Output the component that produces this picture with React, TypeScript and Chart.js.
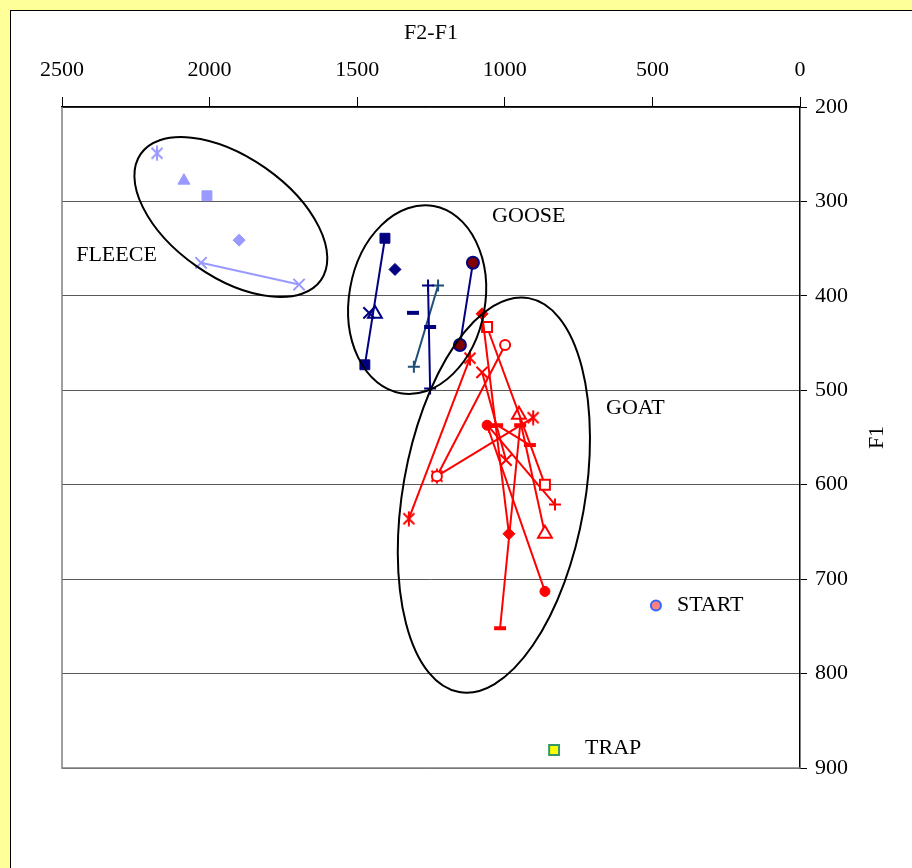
import React, { useEffect, useRef } from 'react';
import { Chart, registerables } from 'chart.js';

Chart.register(...registerables);

const SERIF = '"Liberation Serif", "Times New Roman", serif';

// Axis ticks
const xTicks = [2500, 2000, 1500, 1000, 500, 0];
const yTicks = [200, 300, 400, 500, 600, 700, 800, 900];

type P = { x: number; y: number };

// FLEECE tokens (F2-F1, F1)
const fleeceStar: P[] = [{ x: 2178, y: 249 }];
const fleeceTriangle: P[] = [{ x: 2087, y: 278 }];
const fleeceSquare: P[] = [{ x: 2009, y: 294 }];
const fleeceDiamond: P[] = [{ x: 1900, y: 341 }];
const fleeceCross: P[] = [{ x: 2029, y: 365 }, { x: 1697, y: 388 }];

// GOOSE tokens
const gooseSquare: P[] = [{ x: 1406, y: 339 }, { x: 1474, y: 473 }];
const gooseDiamond: P[] = [{ x: 1372, y: 372 }];
const gooseCross: P[] = [{ x: 1460, y: 418 }];
const gooseTriangle: P[] = [{ x: 1440, y: 419 }];
const gooseDash: P[] = [{ x: 1311, y: 418 }, { x: 1253, y: 433 }];
const goosePlus: P[] = [{ x: 1260, y: 389 }, { x: 1253, y: 498 }];
const goosePlusB: P[] = [{ x: 1226, y: 389 }, { x: 1308, y: 475 }];
const gooseCircle: P[] = [{ x: 1108, y: 365 }, { x: 1152, y: 452 }];

// GOAT tokens
const goatDiamond: P[] = [{ x: 1077, y: 419 }, { x: 986, y: 652 }];
const goatSquare: P[] = [{ x: 1060, y: 433 }, { x: 864, y: 600 }];
const goatCircleOpen: P[] = [{ x: 999, y: 452 }, { x: 1230, y: 591 }];
const goatStarA: P[] = [{ x: 1118, y: 466 }, { x: 1325, y: 636 }];
const goatCross: P[] = [{ x: 1077, y: 481 }, { x: 996, y: 574 }];
const goatCircle: P[] = [{ x: 1060, y: 537 }, { x: 864, y: 713 }];
const goatDashA: P[] = [{ x: 948, y: 537 }, { x: 1016, y: 752 }];
const goatDashB: P[] = [{ x: 1026, y: 537 }, { x: 915, y: 558 }];
const goatStarB: P[] = [{ x: 904, y: 529 }, { x: 1230, y: 591 }];
const goatTriangle: P[] = [{ x: 952, y: 526 }, { x: 864, y: 652 }];
const goatPlus: P[] = [{ x: 1053, y: 539 }, { x: 830, y: 621 }];

// Reference points
const startPoint: P[] = [{ x: 488, y: 728 }];
const trapPoint: P[] = [{ x: 833, y: 881 }];

// Group labels, anchored at data coordinates (left edge, vertical middle)
const groupLabels = [
  { text: 'FLEECE', x: 2452, y: 357 },
  { text: 'GOOSE', x: 1043, y: 316 },
  { text: 'GOAT', x: 657, y: 519 },
  { text: 'START', x: 417, y: 728 },
  { text: 'TRAP', x: 728, y: 879 },
];

// Group outlines: centre in data units, radii in pixels, rotation in degrees
const groupOutlines = [
  { x: 1928, y: 316.5, rx: 110, ry: 60, rot: 35 },
  { x: 1297, y: 404, rx: 95, ry: 68, rot: -80 },
  { x: 1037, y: 611, rx: 200, ry: 91, rot: -80 },
];

const FLEECE = '#9999FF';
const NAVY = '#000080';
const SLATE = '#1F4E79';
const RED = '#FF0000';

// Six-armed asterisk marker (an X with a vertical stroke)
function asterisk(color: string): HTMLCanvasElement {
  const size = 16;
  const c = document.createElement('canvas');
  c.width = size;
  c.height = size;
  const g = c.getContext('2d') as CanvasRenderingContext2D;
  const m = size / 2;
  const d = 5.5;
  g.strokeStyle = color;
  g.lineWidth = 2;
  g.beginPath();
  g.moveTo(m - d, m - d);
  g.lineTo(m + d, m + d);
  g.moveTo(m + d, m - d);
  g.lineTo(m - d, m + d);
  g.moveTo(m, m - 7.5);
  g.lineTo(m, m + 7.5);
  g.stroke();
  return c;
}

type Opts = { fill?: string; border?: string; pbw?: number; line?: boolean; lw?: number };

function series(label: string, data: P[], color: string, style: any, radius: number, o: Opts = {}) {
  return {
    label,
    data,
    showLine: data.length > 1 && o.line !== false,
    borderColor: color,
    borderWidth: o.lw ?? 2,
    backgroundColor: o.fill ?? color,
    pointStyle: style,
    pointRadius: radius,
    pointHoverRadius: radius,
    pointBorderColor: o.border ?? color,
    pointBackgroundColor: o.fill ?? color,
    pointBorderWidth: o.pbw ?? 2,
  };
}

function buildDatasets() {
  const fleeceAst = asterisk(FLEECE);
  const redAst = asterisk(RED);
  return [
    series('fleece star', fleeceStar, FLEECE, fleeceAst, 7),
    series('fleece triangle', fleeceTriangle, FLEECE, 'triangle', 7, { pbw: 1 }),
    series('fleece square', fleeceSquare, FLEECE, 'rect', 7, { pbw: 1 }),
    series('fleece diamond', fleeceDiamond, FLEECE, 'rectRot', 6, { pbw: 1 }),
    series('fleece cross', fleeceCross, FLEECE, 'crossRot', 8),

    series('goose square', gooseSquare, NAVY, 'rect', 7, { pbw: 1 }),
    series('goose diamond', gooseDiamond, NAVY, 'rectRot', 6, { pbw: 1 }),
    series('goose cross', gooseCross, NAVY, 'crossRot', 8),
    series('goose triangle', gooseTriangle, NAVY, 'triangle', 8, { fill: '#ffffff' }),
    series('goose dash', gooseDash, NAVY, 'line', 6, { pbw: 4, line: false }),
    series('goose plus', goosePlus, NAVY, 'cross', 6),
    series('goose plus b', goosePlusB, SLATE, 'cross', 6),
    series('goose circle', gooseCircle, NAVY, 'circle', 6, { fill: '#800000', border: NAVY }),

    series('goat diamond', goatDiamond, RED, 'rectRot', 6, { pbw: 1 }),
    series('goat square', goatSquare, RED, 'rect', 7, { fill: '#ffffff' }),
    series('goat circle open', goatCircleOpen, RED, 'circle', 5, { fill: '#ffffff' }),
    series('goat star a', goatStarA, RED, redAst, 7),
    series('goat cross', goatCross, RED, 'crossRot', 8),
    series('goat circle', goatCircle, RED, 'circle', 5, { pbw: 1 }),
    series('goat dash a', goatDashA, RED, 'line', 6, { pbw: 4 }),
    series('goat dash b', goatDashB, RED, 'line', 6, { pbw: 4 }),
    series('goat star b', goatStarB, RED, redAst, 7),
    series('goat triangle', goatTriangle, RED, 'triangle', 8, { fill: '#ffffff' }),
    series('goat plus', goatPlus, RED, 'cross', 6),

    series('START', startPoint, '#3366FF', 'circle', 5, { fill: '#FF8080', border: '#3366FF' }),
    series('TRAP', trapPoint, '#339966', 'rect', 7, { fill: '#FFFF00', border: '#339966' }),
  ];
}

// Draws the plot-area frame, group outlines, annotations and the F1 title
const decorations = {
  id: 'decorations',
  beforeDatasetsDraw(chart: any) {
    const { ctx, chartArea: a } = chart;
    ctx.save();
    ctx.strokeStyle = '#808080';
    ctx.lineWidth = 1.5;
    ctx.beginPath();
    ctx.moveTo(a.left, a.top);
    ctx.lineTo(a.left, a.bottom);
    ctx.lineTo(a.right, a.bottom);
    ctx.stroke();
    ctx.restore();
  },
  afterDatasetsDraw(chart: any) {
    const { ctx, scales } = chart;
    const xs = scales.x;
    const ys = scales.y;
    ctx.save();
    ctx.strokeStyle = '#000';
    ctx.lineWidth = 2;
    for (const e of groupOutlines) {
      ctx.beginPath();
      ctx.ellipse(xs.getPixelForValue(e.x), ys.getPixelForValue(e.y), e.rx, e.ry, (e.rot * Math.PI) / 180, 0, Math.PI * 2);
      ctx.stroke();
    }
    ctx.fillStyle = '#000';
    ctx.font = `22px ${SERIF}`;
    ctx.textAlign = 'left';
    ctx.textBaseline = 'middle';
    for (const l of groupLabels) {
      ctx.fillText(l.text, xs.getPixelForValue(l.x), ys.getPixelForValue(l.y));
    }
    ctx.restore();
  },
  afterDraw(chart: any) {
    const { ctx, chartArea: a } = chart;
    const ys = chart.scales.y;
    ctx.save();
    ctx.fillStyle = '#000';
    ctx.font = `22px ${SERIF}`;
    ctx.textAlign = 'center';
    ctx.textBaseline = 'middle';
    ctx.translate(ys.right - 35, (a.top + a.bottom) / 2);
    ctx.rotate(-Math.PI / 2);
    ctx.fillText('F1', 0, 0);
    ctx.restore();
  },
};

export default function App() {
  const ref = useRef<HTMLCanvasElement>(null);

  useEffect(() => {
    const chart = new Chart(ref.current as HTMLCanvasElement, {
      type: 'scatter',
      data: { datasets: buildDatasets() as any },
      options: {
        animation: false,
        responsive: false,
        devicePixelRatio: 1,
        events: [],
        layout: { padding: { left: 62, right: 0, top: 0, bottom: 100 } },
        plugins: { legend: { display: false }, tooltip: { enabled: false } },
        scales: {
          x: {
            type: 'linear',
            position: 'top',
            reverse: true,
            min: 0,
            max: 2500,
            afterBuildTicks: (s: any) => {
              s.ticks = xTicks.map((v) => ({ value: v }));
            },
            afterFit: (s: any) => {
              s.height = 107;
            },
            grid: { drawOnChartArea: false, drawTicks: true, tickLength: 10, color: '#000', lineWidth: 1 },
            border: { display: true, color: '#000', width: 1.5 },
            ticks: {
              color: '#000',
              font: { family: SERIF, size: 22 },
              padding: 14,
              maxRotation: 0,
              autoSkip: false,
              callback: (v: any) => String(v),
            },
            title: {
              display: true,
              text: 'F2-F1',
              color: '#000',
              font: { family: SERIF, size: 22 },
              padding: { top: 20, bottom: 0 },
            },
          },
          y: {
            type: 'linear',
            position: 'right',
            reverse: true,
            min: 200,
            max: 900,
            afterBuildTicks: (s: any) => {
              s.ticks = yTicks.map((v) => ({ value: v }));
            },
            afterFit: (s: any) => {
              s.width = 112;
            },
            grid: { color: '#595959', lineWidth: 1, tickLength: 7, tickColor: '#000' },
            border: { display: true, color: '#000', width: 1.5 },
            ticks: {
              color: '#000',
              font: { family: SERIF, size: 22 },
              padding: 8,
              autoSkip: false,
              callback: (v: any) => String(v),
            },
          },
        },
      } as any,
      plugins: [decorations],
    });
    return () => chart.destroy();
  }, []);

  return (
    <div
      style={{
        position: 'absolute',
        left: 0,
        top: 0,
        width: 912,
        height: 868,
        background: '#FFFF99',
        overflow: 'hidden',
      }}
    >
      <div
        style={{
          position: 'absolute',
          left: 10,
          top: 10,
          width: 940,
          height: 900,
          background: '#ffffff',
          border: '1px solid #000',
        }}
      />
      <canvas ref={ref} width={912} height={868} style={{ position: 'absolute', left: 0, top: 0 }} />
    </div>
  );
}
